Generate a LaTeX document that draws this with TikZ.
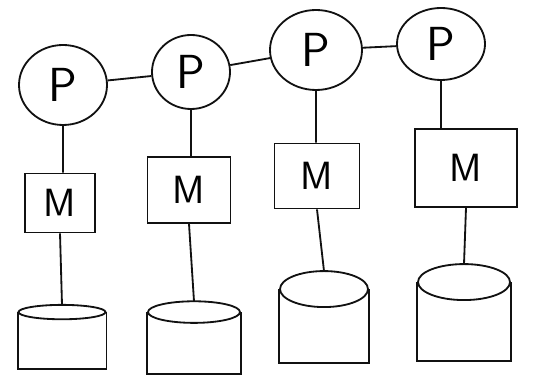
\documentclass[tikz,border=0pt]{standalone}
\usepackage{tikz}
\usetikzlibrary{shapes.geometric}
\definecolor{inkblack}{HTML}{111111}

\begin{document}
\begin{tikzpicture}[
    line width=1.3pt, draw=inkblack,
    proc/.style={ellipse, draw=inkblack, inner sep=0pt,
      font=\sffamily\fontsize{34}{36}\selectfont},
    mem/.style={rectangle, draw=inkblack, inner sep=0pt,
      font=\sffamily\fontsize{28}{30}\selectfont},
    diskbody/.style={rectangle, draw=none, inner sep=0pt}
  ]
  \useasboundingbox (0,0) rectangle (13.825,9.45);

  % Processors
  \node[proc, minimum width=2.2cm, minimum height=2.0cm] (p1) at (1.575,7.325) {P};
  \node[proc, minimum width=1.95cm, minimum height=1.85cm] (p2) at (4.775,7.65) {P};
  \node[proc, minimum width=2.3cm, minimum height=2.0cm] (p3) at (7.9,8.2) {P};
  \node[proc, minimum width=2.2cm, minimum height=1.8cm] (p4) at (11.025,8.35) {P};

  % Memories
  \node[mem, minimum width=1.75cm, minimum height=1.475cm] (m1) at (1.5,4.375) {M};
  \node[mem, minimum width=2.075cm, minimum height=1.65cm] (m2) at (4.725,4.7) {M};
  \node[mem, minimum width=2.125cm, minimum height=1.625cm] (m3) at (7.925,5.05) {M};
  \node[mem, minimum width=2.55cm, minimum height=1.95cm] (m4) at (11.65,5.25) {M};

  % Disks: open body plus elliptic lid
  \foreach \i/\x/\y/\w/\h/\r in {1/1.55/0.9375/2.175/1.375/0.18,
                                 2/4.85/0.875/2.3/1.5/0.27,
                                 3/8.1/1.3/2.2/1.8/0.45,
                                 4/11.6/1.4125/2.3/1.925/0.45} {
    \node[diskbody, minimum width=\w cm, minimum height=\h cm] (d\i) at (\x,\y) {};
    \draw (d\i.north west) -- (d\i.south west) -- (d\i.south east) -- (d\i.north east);
    \draw (d\i.north) ellipse [x radius=\w cm/2, y radius=\r cm];
    \coordinate (t\i) at ([yshift=\r cm]d\i.north);
  }

  % Ring of processors
  \draw (p1) -- (p2) -- (p3) -- (p4);

  % Processor to memory to disk
  \foreach \i in {1,...,4}
    \draw (p\i.south) -- (p\i.south |- m\i.north) (m\i.south) -- (t\i);
\end{tikzpicture}
\end{document}
